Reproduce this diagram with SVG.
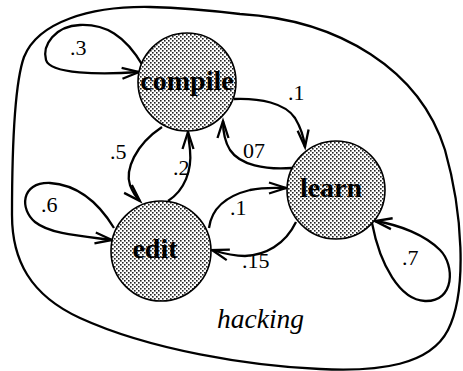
<svg xmlns="http://www.w3.org/2000/svg" width="463" height="371" viewBox="0 0 463 371">
<style>
.edge{fill:none;stroke:#000;stroke-width:2.3}
.node{fill:url(#dots);stroke:#000;stroke-width:1.6}
.nlabel{font-family:"Liberation Serif",serif;font-weight:bold;font-size:28px;fill:#000}
.elabel{font-family:"Liberation Serif",serif;font-size:22px;fill:#000}
.title{font-family:"Liberation Serif",serif;font-style:italic;font-size:27.5px;fill:#000}
</style>
<defs>
<pattern id="dots" width="4" height="4" patternUnits="userSpaceOnUse">
<rect width="4" height="4" fill="#fff"/>
<rect x="0" y="0" width="1.6" height="1.6" fill="#222"/>
<rect x="2" y="2" width="1.6" height="1.6" fill="#222"/>
</pattern>
<marker id="arr" markerUnits="userSpaceOnUse" markerWidth="24" markerHeight="16" viewBox="-20 -8 24 16" refX="0" refY="0" orient="auto">
<path d="M-17,-5.5 L0,0 L-17,5.5" fill="none" stroke="#000" stroke-width="2.3"/>
</marker>
</defs>
<g id="hacking">
<path d="M240,14 C340,20 420,70 445,150 C462,210 468,290 448,330 C430,365 380,372 320,369 C250,366 150,350 80,318 C30,295 12,260 12,215 C12,150 14,85 24,57 C38,22 90,6 150,7 C190,8 215,11 240,14 Z" fill="none" stroke="#000" stroke-width="2.3"/>
<text class="title" x="217" y="328">hacking</text>
</g>
<g id="connectors">
<path class="edge" marker-end="url(#arr)" d="M143,66 C125,35 105,24 80,25 C55,26 42,45 46,60 C50,74 100,75 139,72"/>
<path class="edge" marker-end="url(#arr)" d="M162,127 C135,145 125,170 130,185 C133,193 136,197 140,201"/>
<path class="edge" marker-end="url(#arr)" d="M168,201 C185,190 192,170 190,150 C189,140 188,136 188,132"/>
<path class="edge" marker-end="url(#arr)" d="M234,99 C260,98 285,103 295,118 C301,128 304,138 305,147"/>
<path class="edge" marker-end="url(#arr)" d="M292,168 C265,170 240,165 230,150 C225,142 223,132 223,121"/>
<path class="edge" marker-end="url(#arr)" d="M209,228 C212,205 230,195 250,190 C265,187 275,188 286,188"/>
<path class="edge" marker-end="url(#arr)" d="M296,222 C285,245 265,255 245,256 C235,256 222,253 212,250"/>
<path class="edge" marker-end="url(#arr)" d="M372,223 C380,265 400,300 425,301 C455,302 455,265 440,250 C425,235 400,225 375,221"/>
<path class="edge" marker-end="url(#arr)" d="M114,228 C100,205 80,185 50,183 C20,182 20,210 35,222 C50,234 80,236 112,240"/>
<text class="elabel" x="70" y="55">.3</text>
<text class="elabel" x="110" y="159">.5</text>
<text class="elabel" x="173" y="175">.2</text>
<text class="elabel" x="288" y="100">.1</text>
<text class="elabel" x="243" y="158">07</text>
<text class="elabel" x="230" y="215">.1</text>
<text class="elabel" x="242" y="268">.15</text>
<text class="elabel" x="402" y="265">.7</text>
<text class="elabel" x="41" y="212">.6</text>
</g>
<g id="compile">
<circle class="node" cx="187" cy="82" r="49"/>
<text class="nlabel" x="187" y="90" text-anchor="middle">compile</text>
</g>
<g id="edit">
<circle class="node" cx="161" cy="251" r="50"/>
<text class="nlabel" x="155" y="258" text-anchor="middle">edit</text>
</g>
<g id="learn">
<circle class="node" cx="336" cy="190" r="49"/>
<text class="nlabel" x="331" y="197" text-anchor="middle">learn</text>
</g>
</svg>
